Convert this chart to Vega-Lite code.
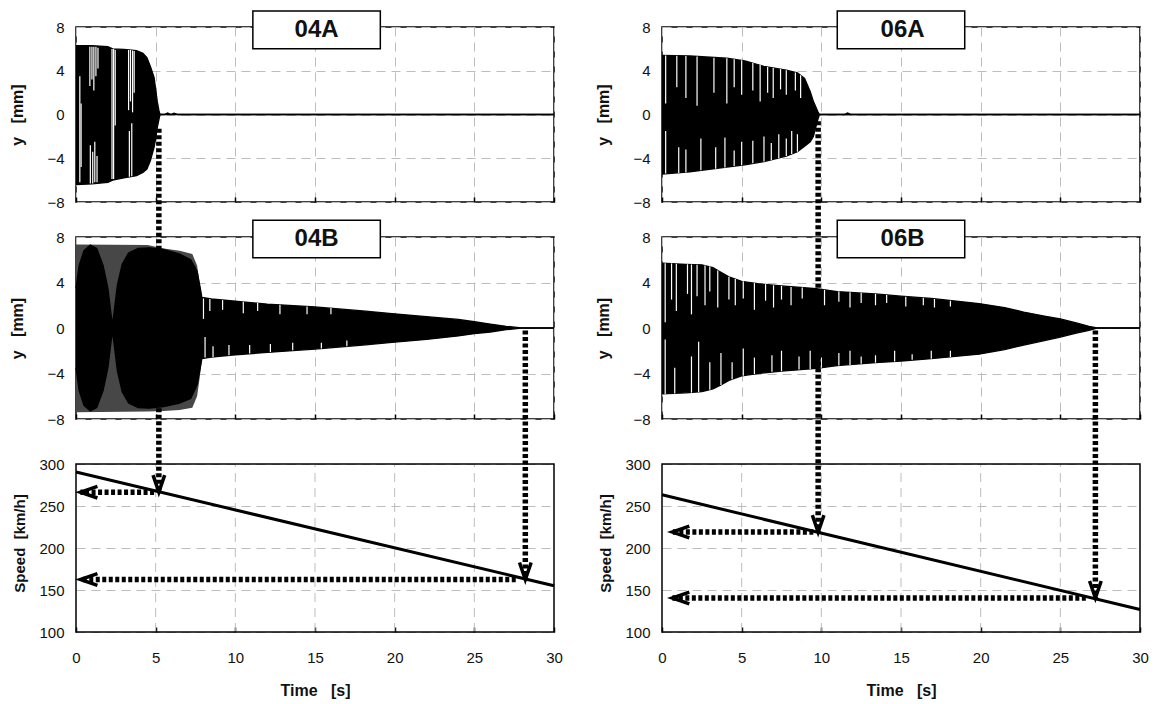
{
  "$schema": "https://vega.github.io/schema/vega-lite/v6.json",
  "background": "white",
  "padding": {"left": 9, "top": 9, "right": 5, "bottom": 5},
  "config": {
    "font": "Liberation Sans",
    "view": {"stroke": "#000", "strokeWidth": 1.5},
    "axis": {"domain": false, "labelFontSize": 15, "labelColor": "#111", "titleFontSize": 16, "titleFontWeight": "bold", "titleColor": "#111", "gridColor": "#bdbdbd", "gridDash": [9, 6], "gridWidth": 1}
  },
  "datasets": {
    "e04A": [
      {"t": 0, "hi": 6.3, "lo": -6.4}, {"t": 1, "hi": 6.3, "lo": -6.35}, {"t": 2, "hi": 6.2, "lo": -6.2}, {"t": 2.3, "hi": 6.0, "lo": -6.0},
      {"t": 3, "hi": 5.95, "lo": -5.8}, {"t": 3.8, "hi": 5.85, "lo": -5.6}, {"t": 4.2, "hi": 5.6, "lo": -5.3}, {"t": 4.45, "hi": 5.2, "lo": -5.0},
      {"t": 4.67, "hi": 4.4, "lo": -4.2}, {"t": 4.9, "hi": 3.4, "lo": -3.0}, {"t": 5.0, "hi": 2.3, "lo": -2.2}, {"t": 5.1, "hi": 1.2, "lo": -1.2},
      {"t": 5.2, "hi": 0.4, "lo": -0.5}, {"t": 5.27, "hi": 0, "lo": 0}, {"t": 5.55, "hi": 0, "lo": 0}, {"t": 5.75, "hi": 0.13, "lo": 0},
      {"t": 5.95, "hi": 0, "lo": 0}, {"t": 6.15, "hi": 0.13, "lo": 0}, {"t": 6.4, "hi": 0, "lo": 0}, {"t": 30, "hi": 0, "lo": 0}
    ],
    "g04A": [
      {"t": 0.24, "a": 3.5, "b": -6.2}, {"t": 0.32, "a": 1.0, "b": -4.8},
      {"t": 0.87, "a": 6.2, "b": 2.6}, {"t": 1.0, "a": 6.2, "b": 3.2}, {"t": 1.12, "a": 6.2, "b": 2.2}, {"t": 1.25, "a": 6.2, "b": 3.5}, {"t": 1.38, "a": 6.1, "b": 4.2},
      {"t": 0.9, "a": -2.8, "b": -6.3}, {"t": 1.05, "a": -3.4, "b": -6.3}, {"t": 1.18, "a": -2.5, "b": -6.2}, {"t": 1.32, "a": -3.8, "b": -6.2},
      {"t": 2.26, "a": 6.0, "b": -5.9}, {"t": 2.36, "a": 6.0, "b": -5.9}, {"t": 2.46, "a": 5.9, "b": -1.0},
      {"t": 3.3, "a": 5.9, "b": 0.4}, {"t": 3.42, "a": 5.9, "b": 1.2}, {"t": 3.55, "a": 5.85, "b": 0.2}, {"t": 3.65, "a": 5.8, "b": 2.0},
      {"t": 3.35, "a": -1.5, "b": -5.7}, {"t": 3.5, "a": -0.8, "b": -5.65}
    ],
    "e04Bh": [
      {"t": 0, "hi": 7.35, "lo": -7.4}, {"t": 4.5, "hi": 7.3, "lo": -7.35}, {"t": 5.5, "hi": 7.0, "lo": -7.3}, {"t": 6.5, "hi": 6.8, "lo": -7.2},
      {"t": 7.3, "hi": 6.5, "lo": -7.0}, {"t": 7.6, "hi": 5.5, "lo": -6.0}, {"t": 7.75, "hi": 4.0, "lo": -4.5}, {"t": 7.9, "hi": 2.7, "lo": -2.7}
    ],
    "e04B": [
      {"t": 0, "hi": 3.5, "lo": -3.5}, {"t": 0.2, "hi": 5.5, "lo": -5.5}, {"t": 0.5, "hi": 6.8, "lo": -6.8}, {"t": 0.9, "hi": 7.3, "lo": -7.3},
      {"t": 1.3, "hi": 7.0, "lo": -7.0}, {"t": 1.7, "hi": 5.5, "lo": -5.5}, {"t": 2.0, "hi": 3.5, "lo": -3.5}, {"t": 2.2, "hi": 1.2, "lo": -1.2},
      {"t": 2.3, "hi": 0.3, "lo": -0.3}, {"t": 2.4, "hi": 1.5, "lo": -1.5}, {"t": 2.6, "hi": 3.8, "lo": -3.8}, {"t": 2.9, "hi": 5.6, "lo": -5.6},
      {"t": 3.3, "hi": 6.6, "lo": -6.6}, {"t": 3.9, "hi": 7.0, "lo": -7.0}, {"t": 4.6, "hi": 7.05, "lo": -7.05}, {"t": 5.5, "hi": 6.9, "lo": -6.9},
      {"t": 6.5, "hi": 6.5, "lo": -6.6}, {"t": 7.2, "hi": 6.0, "lo": -6.2}, {"t": 7.6, "hi": 5.0, "lo": -5.0}, {"t": 7.8, "hi": 3.5, "lo": -3.5},
      {"t": 7.9, "hi": 2.7, "lo": -2.7}, {"t": 8.5, "hi": 2.55, "lo": -2.55}, {"t": 10, "hi": 2.35, "lo": -2.35}, {"t": 12, "hi": 2.1, "lo": -2.15},
      {"t": 15, "hi": 1.85, "lo": -1.85}, {"t": 18, "hi": 1.5, "lo": -1.5}, {"t": 20, "hi": 1.25, "lo": -1.25}, {"t": 22, "hi": 1.0, "lo": -1.0},
      {"t": 24, "hi": 0.75, "lo": -0.7}, {"t": 25, "hi": 0.55, "lo": -0.5}, {"t": 26, "hi": 0.35, "lo": -0.35}, {"t": 27, "hi": 0.15, "lo": -0.15},
      {"t": 27.8, "hi": 0.03, "lo": -0.03}, {"t": 28, "hi": 0, "lo": 0}, {"t": 30, "hi": 0, "lo": 0}
    ],
    "g04B": [
      {"t": 8.0, "a": 2.6, "b": 0.8}, {"t": 8.4, "a": 2.55, "b": 1.5}, {"t": 9.2, "a": 2.45, "b": 1.6}, {"t": 10.5, "a": 2.3, "b": 1.3},
      {"t": 11.4, "a": 2.2, "b": 1.5}, {"t": 12.8, "a": 2.05, "b": 1.2}, {"t": 14.5, "a": 1.9, "b": 1.2}, {"t": 16, "a": 1.75, "b": 1.2},
      {"t": 8.1, "a": -2.6, "b": -0.8}, {"t": 8.6, "a": -2.55, "b": -1.6}, {"t": 9.6, "a": -2.4, "b": -1.5}, {"t": 10.9, "a": -2.25, "b": -1.5},
      {"t": 12.2, "a": -2.1, "b": -1.4}, {"t": 13.6, "a": -1.95, "b": -1.3}, {"t": 15.4, "a": -1.8, "b": -1.3}, {"t": 17, "a": -1.6, "b": -1.1}
    ],
    "e06A": [
      {"t": 0, "hi": 5.4, "lo": -5.45}, {"t": 1.74, "hi": 5.35, "lo": -5.25}, {"t": 4.07, "hi": 5.15, "lo": -4.8}, {"t": 5.2, "hi": 4.9, "lo": -4.6},
      {"t": 6.4, "hi": 4.4, "lo": -4.3}, {"t": 7.8, "hi": 4.05, "lo": -3.8}, {"t": 8.5, "hi": 3.8, "lo": -3.4}, {"t": 8.95, "hi": 3.3, "lo": -2.9},
      {"t": 9.3, "hi": 2.1, "lo": -2.5}, {"t": 9.5, "hi": 1.2, "lo": -2.0}, {"t": 9.77, "hi": 0.3, "lo": -0.5}, {"t": 9.88, "hi": 0, "lo": 0},
      {"t": 11.45, "hi": 0, "lo": 0}, {"t": 11.65, "hi": 0.15, "lo": 0}, {"t": 11.85, "hi": 0, "lo": 0}, {"t": 30, "hi": 0, "lo": 0}
    ],
    "g06A": [
      {"t": 0.23, "a": 5.4, "b": 1.0}, {"t": 0.93, "a": 5.38, "b": 2.5}, {"t": 1.5, "a": 5.35, "b": 1.5}, {"t": 2.2, "a": 5.3, "b": 0.8},
      {"t": 3.26, "a": 5.2, "b": 2.0}, {"t": 4.07, "a": 5.15, "b": 1.0}, {"t": 4.53, "a": 5.05, "b": 2.5}, {"t": 5.0, "a": 4.95, "b": 1.8},
      {"t": 5.7, "a": 4.7, "b": 2.2}, {"t": 6.16, "a": 4.55, "b": 1.2}, {"t": 6.63, "a": 4.35, "b": 2.0}, {"t": 6.98, "a": 4.25, "b": 1.5},
      {"t": 7.44, "a": 4.15, "b": 2.3}, {"t": 7.8, "a": 4.05, "b": 1.8}, {"t": 8.37, "a": 3.85, "b": 2.2}, {"t": 8.7, "a": 3.6, "b": 1.5},
      {"t": 0.23, "a": -5.4, "b": -1.5}, {"t": 1.05, "a": -5.35, "b": -3.0}, {"t": 1.5, "a": -5.3, "b": -3.2}, {"t": 2.44, "a": -5.1, "b": -2.2},
      {"t": 3.37, "a": -4.95, "b": -3.0}, {"t": 3.95, "a": -4.85, "b": -2.1}, {"t": 4.53, "a": -4.7, "b": -3.3}, {"t": 5.0, "a": -4.65, "b": -2.5},
      {"t": 5.7, "a": -4.45, "b": -2.4}, {"t": 6.4, "a": -4.3, "b": -2.0}, {"t": 6.86, "a": -4.15, "b": -2.6}, {"t": 7.33, "a": -4.0, "b": -1.8},
      {"t": 7.8, "a": -3.8, "b": -2.2}, {"t": 8.14, "a": -3.6, "b": -1.5}, {"t": 8.5, "a": -3.4, "b": -1.8}
    ],
    "e06B": [
      {"t": 0, "hi": 5.7, "lo": -5.8}, {"t": 1.5, "hi": 5.6, "lo": -5.7}, {"t": 2.5, "hi": 5.55, "lo": -5.6}, {"t": 3.2, "hi": 5.3, "lo": -5.35},
      {"t": 3.7, "hi": 4.9, "lo": -5.0}, {"t": 4.2, "hi": 4.5, "lo": -4.6}, {"t": 5.0, "hi": 4.1, "lo": -4.2}, {"t": 6.0, "hi": 3.9, "lo": -4.0},
      {"t": 7.5, "hi": 3.7, "lo": -3.8}, {"t": 9.7, "hi": 3.45, "lo": -3.55}, {"t": 11, "hi": 3.2, "lo": -3.3}, {"t": 13.4, "hi": 3.0, "lo": -3.05},
      {"t": 15, "hi": 2.8, "lo": -2.9}, {"t": 16.9, "hi": 2.6, "lo": -2.7}, {"t": 19.9, "hi": 2.15, "lo": -2.3}, {"t": 21.5, "hi": 1.8, "lo": -1.9},
      {"t": 22.7, "hi": 1.4, "lo": -1.5}, {"t": 24, "hi": 1.05, "lo": -1.1}, {"t": 25, "hi": 0.8, "lo": -0.8}, {"t": 26, "hi": 0.45, "lo": -0.45},
      {"t": 26.8, "hi": 0.15, "lo": -0.2}, {"t": 27.3, "hi": 0, "lo": 0}, {"t": 30, "hi": 0, "lo": 0}
    ],
    "g06B": [
      {"t": 0.2, "a": 5.7, "b": 0.5}, {"t": 0.6, "a": 5.68, "b": 2.5}, {"t": 0.9, "a": 5.65, "b": 1.5}, {"t": 1.6, "a": 5.6, "b": 3.0},
      {"t": 1.85, "a": 5.58, "b": 1.2}, {"t": 2.2, "a": 5.56, "b": 2.8}, {"t": 2.7, "a": 5.5, "b": 2.0}, {"t": 3.0, "a": 5.4, "b": 3.2},
      {"t": 3.5, "a": 5.05, "b": 1.8}, {"t": 4.2, "a": 4.5, "b": 2.5}, {"t": 4.6, "a": 4.3, "b": 2.0}, {"t": 5.1, "a": 4.1, "b": 2.6},
      {"t": 5.8, "a": 3.95, "b": 1.6}, {"t": 6.5, "a": 3.85, "b": 2.4}, {"t": 7.0, "a": 3.75, "b": 1.8}, {"t": 7.5, "a": 3.7, "b": 2.5},
      {"t": 8.1, "a": 3.6, "b": 2.0}, {"t": 8.8, "a": 3.55, "b": 2.6}, {"t": 10.2, "a": 3.35, "b": 2.0}, {"t": 11.1, "a": 3.2, "b": 2.3},
      {"t": 11.8, "a": 3.15, "b": 1.8}, {"t": 12.5, "a": 3.1, "b": 2.2}, {"t": 13.4, "a": 3.0, "b": 2.0}, {"t": 14.1, "a": 2.9, "b": 2.2},
      {"t": 15.3, "a": 2.75, "b": 1.9}, {"t": 16.4, "a": 2.65, "b": 2.0}, {"t": 17.1, "a": 2.55, "b": 1.8}, {"t": 18.1, "a": 2.4, "b": 1.9},
      {"t": 0.2, "a": -5.8, "b": -1.0}, {"t": 0.8, "a": -5.75, "b": -3.5}, {"t": 1.85, "a": -5.68, "b": -2.5}, {"t": 2.3, "a": -5.62, "b": -1.2},
      {"t": 3.0, "a": -5.42, "b": -3.0}, {"t": 3.7, "a": -5.0, "b": -2.2}, {"t": 4.4, "a": -4.5, "b": -3.0}, {"t": 5.1, "a": -4.2, "b": -1.8},
      {"t": 5.8, "a": -4.05, "b": -2.6}, {"t": 6.9, "a": -3.85, "b": -2.4}, {"t": 7.5, "a": -3.8, "b": -2.0}, {"t": 8.6, "a": -3.65, "b": -2.5},
      {"t": 9.3, "a": -3.6, "b": -2.0}, {"t": 10.0, "a": -3.5, "b": -2.6}, {"t": 11.1, "a": -3.3, "b": -2.2}, {"t": 11.8, "a": -3.25, "b": -2.0},
      {"t": 12.5, "a": -3.15, "b": -2.5}, {"t": 13.4, "a": -3.05, "b": -2.4}, {"t": 14.6, "a": -2.95, "b": -2.0}, {"t": 15.7, "a": -2.8, "b": -2.3},
      {"t": 16.9, "a": -2.7, "b": -2.0}, {"t": 18.1, "a": -2.55, "b": -2.0}
    ],
    "xgrid": [{"t": 5}, {"t": 10}, {"t": 15}, {"t": 20}, {"t": 25}],
    "spd04": [{"t": 0, "v": 290.5}, {"t": 30, "v": 155}],
    "spd06": [{"t": 0, "v": 263.3}, {"t": 30, "v": 126.7}],
    "vA04": [{"t": 5.2, "top": 699, "tip": 266.5}, {"t": 28.2, "top": 459, "tip": 162.5}],
    "hA04": [{"v": 266.5, "t1": 4.9, "t2": 0.28}, {"v": 162.5, "t1": 27.6, "t2": 0.28}],
    "vA06": [{"t": 9.8, "top": 708, "tip": 219}, {"t": 27.2, "top": 459, "tip": 140.5}],
    "hA06": [{"v": 219, "t1": 9.5, "t2": 0.65}, {"v": 140.5, "t1": 26.6, "t2": 0.65}]
  },
  "columns": 2,
  "spacing": {"row": 35, "column": 108},
  "bounds": "flush",
  "concat": [
    {
      "width": 478, "height": 175,
      "layer": [
        {"data": {"name": "e04A"}, "mark": {"type": "area", "color": "black"},
         "encoding": {
           "x": {"field": "t", "type": "quantitative", "scale": {"domain": [0, 30], "nice": false}, "axis": {"values": [0, 5, 10, 15, 20, 25, 30], "labels": false, "title": null, "ticks": true, "tickSize": -5, "tickColor": "black", "tickWidth": 1.5, "grid": true}},
           "y": {"field": "hi", "type": "quantitative", "scale": {"domain": [-8, 8], "nice": false}, "title": "y\u00a0\u00a0\u00a0[mm]", "axis": {"values": [-8, -4, 0, 4, 8], "ticks": false, "labelPadding": 12, "titlePadding": 21, "grid": true}},
           "y2": {"field": "lo"}}},
        {"data": {"name": "e04A"}, "mark": {"type": "line", "color": "black", "strokeWidth": 1.3},
         "encoding": {"x": {"field": "t", "type": "quantitative"}, "y": {"field": "hi", "type": "quantitative", "title": "y\u00a0\u00a0\u00a0[mm]"}}},
        {"data": {"name": "e04A"}, "mark": {"type": "line", "color": "black", "strokeWidth": 1.3},
         "encoding": {"x": {"field": "t", "type": "quantitative"}, "y": {"field": "lo", "type": "quantitative", "title": "y\u00a0\u00a0\u00a0[mm]"}}},
        {"data": {"name": "g04A"}, "mark": {"type": "rule", "color": "white", "strokeWidth": 1.2},
         "encoding": {"x": {"field": "t", "type": "quantitative"}, "y": {"field": "a", "type": "quantitative", "title": "y\u00a0\u00a0\u00a0[mm]"}, "y2": {"field": "b"}}},
        {"data": {"values": [{"label": "04A"}]}, "mark": {"type": "rect", "fill": "white", "stroke": "black", "strokeWidth": 1.5},
         "encoding": {"x": {"datum": 11.1}, "x2": {"datum": 19.1}, "y": {"datum": 9.46}, "y2": {"datum": 6.02}}},
        {"data": {"values": [{"label": "04A"}]}, "mark": {"type": "text", "fontSize": 24, "fontWeight": "bold", "color": "#111"},
         "encoding": {"x": {"datum": 15.1}, "y": {"datum": 7.75}, "text": {"field": "label"}}}
      ]
    },
    {
      "width": 478, "height": 175,
      "layer": [
        {"data": {"name": "e06A"}, "mark": {"type": "area", "color": "black"},
         "encoding": {
           "x": {"field": "t", "type": "quantitative", "scale": {"domain": [0, 30], "nice": false}, "axis": {"values": [0, 5, 10, 15, 20, 25, 30], "labels": false, "title": null, "ticks": true, "tickSize": -5, "tickColor": "black", "tickWidth": 1.5, "grid": true}},
           "y": {"field": "hi", "type": "quantitative", "scale": {"domain": [-8, 8], "nice": false}, "title": "y\u00a0\u00a0\u00a0[mm]", "axis": {"values": [-8, -4, 0, 4, 8], "ticks": false, "labelPadding": 12, "titlePadding": 21, "grid": true}},
           "y2": {"field": "lo"}}},
        {"data": {"name": "e06A"}, "mark": {"type": "line", "color": "black", "strokeWidth": 1.3},
         "encoding": {"x": {"field": "t", "type": "quantitative"}, "y": {"field": "hi", "type": "quantitative", "title": "y\u00a0\u00a0\u00a0[mm]"}}},
        {"data": {"name": "e06A"}, "mark": {"type": "line", "color": "black", "strokeWidth": 1.3},
         "encoding": {"x": {"field": "t", "type": "quantitative"}, "y": {"field": "lo", "type": "quantitative", "title": "y\u00a0\u00a0\u00a0[mm]"}}},
        {"data": {"name": "g06A"}, "mark": {"type": "rule", "color": "white", "strokeWidth": 1.2},
         "encoding": {"x": {"field": "t", "type": "quantitative"}, "y": {"field": "a", "type": "quantitative", "title": "y\u00a0\u00a0\u00a0[mm]"}, "y2": {"field": "b"}}},
        {"data": {"values": [{"label": "06A"}]}, "mark": {"type": "rect", "fill": "white", "stroke": "black", "strokeWidth": 1.5},
         "encoding": {"x": {"datum": 11.0}, "x2": {"datum": 19.0}, "y": {"datum": 9.46}, "y2": {"datum": 6.02}}},
        {"data": {"values": [{"label": "06A"}]}, "mark": {"type": "text", "fontSize": 24, "fontWeight": "bold", "color": "#111"},
         "encoding": {"x": {"datum": 15.1}, "y": {"datum": 7.75}, "text": {"field": "label"}}}
      ]
    },
    {
      "width": 478, "height": 182,
      "layer": [
        {"data": {"name": "e04Bh"}, "mark": {"type": "area", "color": "#474747"},
         "encoding": {
           "x": {"field": "t", "type": "quantitative", "scale": {"domain": [0, 30], "nice": false}, "axis": {"values": [0, 5, 10, 15, 20, 25, 30], "labels": false, "title": null, "ticks": true, "tickSize": -5, "tickColor": "black", "tickWidth": 1.5, "grid": true}},
           "y": {"field": "hi", "type": "quantitative", "scale": {"domain": [-8, 8], "nice": false}, "title": "y\u00a0\u00a0\u00a0[mm]", "axis": {"values": [-8, -4, 0, 4, 8], "ticks": false, "labelPadding": 12, "titlePadding": 21, "grid": true}},
           "y2": {"field": "lo"}}},
        {"data": {"name": "e04B"}, "mark": {"type": "area", "color": "black"},
         "encoding": {"x": {"field": "t", "type": "quantitative"}, "y": {"field": "hi", "type": "quantitative", "title": "y\u00a0\u00a0\u00a0[mm]"}, "y2": {"field": "lo"}}},
        {"data": {"name": "e04B"}, "mark": {"type": "line", "color": "black", "strokeWidth": 1.3},
         "encoding": {"x": {"field": "t", "type": "quantitative"}, "y": {"field": "hi", "type": "quantitative", "title": "y\u00a0\u00a0\u00a0[mm]"}}},
        {"data": {"name": "e04B"}, "mark": {"type": "line", "color": "black", "strokeWidth": 1.3},
         "encoding": {"x": {"field": "t", "type": "quantitative"}, "y": {"field": "lo", "type": "quantitative", "title": "y\u00a0\u00a0\u00a0[mm]"}}},
        {"data": {"name": "g04B"}, "mark": {"type": "rule", "color": "white", "strokeWidth": 1.2},
         "encoding": {"x": {"field": "t", "type": "quantitative"}, "y": {"field": "a", "type": "quantitative", "title": "y\u00a0\u00a0\u00a0[mm]"}, "y2": {"field": "b"}}},
        {"data": {"values": [{"label": "04B"}]}, "mark": {"type": "rect", "fill": "white", "stroke": "black", "strokeWidth": 1.5},
         "encoding": {"x": {"datum": 11.1}, "x2": {"datum": 19.1}, "y": {"datum": 9.47}, "y2": {"datum": 6.18}}},
        {"data": {"values": [{"label": "04B"}]}, "mark": {"type": "text", "fontSize": 24, "fontWeight": "bold", "color": "#111"},
         "encoding": {"x": {"datum": 15.1}, "y": {"datum": 7.85}, "text": {"field": "label"}}}
      ]
    },
    {
      "width": 478, "height": 182,
      "layer": [
        {"data": {"name": "e06B"}, "mark": {"type": "area", "color": "black"},
         "encoding": {
           "x": {"field": "t", "type": "quantitative", "scale": {"domain": [0, 30], "nice": false}, "axis": {"values": [0, 5, 10, 15, 20, 25, 30], "labels": false, "title": null, "ticks": true, "tickSize": -5, "tickColor": "black", "tickWidth": 1.5, "grid": true}},
           "y": {"field": "hi", "type": "quantitative", "scale": {"domain": [-8, 8], "nice": false}, "title": "y\u00a0\u00a0\u00a0[mm]", "axis": {"values": [-8, -4, 0, 4, 8], "ticks": false, "labelPadding": 12, "titlePadding": 21, "grid": true}},
           "y2": {"field": "lo"}}},
        {"data": {"name": "e06B"}, "mark": {"type": "line", "color": "black", "strokeWidth": 1.3},
         "encoding": {"x": {"field": "t", "type": "quantitative"}, "y": {"field": "hi", "type": "quantitative", "title": "y\u00a0\u00a0\u00a0[mm]"}}},
        {"data": {"name": "e06B"}, "mark": {"type": "line", "color": "black", "strokeWidth": 1.3},
         "encoding": {"x": {"field": "t", "type": "quantitative"}, "y": {"field": "lo", "type": "quantitative", "title": "y\u00a0\u00a0\u00a0[mm]"}}},
        {"data": {"name": "g06B"}, "mark": {"type": "rule", "color": "white", "strokeWidth": 1.2},
         "encoding": {"x": {"field": "t", "type": "quantitative"}, "y": {"field": "a", "type": "quantitative", "title": "y\u00a0\u00a0\u00a0[mm]"}, "y2": {"field": "b"}}},
        {"data": {"values": [{"label": "06B"}]}, "mark": {"type": "rect", "fill": "white", "stroke": "black", "strokeWidth": 1.5},
         "encoding": {"x": {"datum": 11.0}, "x2": {"datum": 19.0}, "y": {"datum": 9.47}, "y2": {"datum": 6.18}}},
        {"data": {"values": [{"label": "06B"}]}, "mark": {"type": "text", "fontSize": 24, "fontWeight": "bold", "color": "#111"},
         "encoding": {"x": {"datum": 15.1}, "y": {"datum": 7.85}, "text": {"field": "label"}}}
      ]
    },
    {
      "width": 478, "height": 178,
      "view": {"stroke": null},
      "layer": [
        {"data": {"name": "xgrid"}, "mark": {"type": "rule", "color": "#bdbdbd", "strokeWidth": 1, "strokeDash": [9, 6]},
         "encoding": {
           "x": {"field": "t", "type": "quantitative", "scale": {"domain": [0, 30], "nice": false}, "title": "Time\u00a0\u00a0\u00a0[s]", "axis": {"values": [0, 5, 10, 15, 20, 25, 30], "labelFlush": false, "ticks": true, "tickSize": -5, "tickColor": "black", "tickWidth": 1.5, "labelPadding": 23, "titlePadding": 17, "grid": false}},
           "y": {"datum": 100, "type": "quantitative", "scale": {"domain": [100, 311.905], "nice": false, "zero": false}, "title": "Speed\u00a0\u00a0[km/h]", "axis": {"values": [100, 150, 200, 250, 300], "ticks": false, "labelPadding": 12, "titlePadding": 11, "titleFontSize": 15, "grid": true}},
           "y2": {"datum": 300}}},
        {"data": {"values": [{"label": "frame"}]}, "mark": {"type": "rect", "fill": null, "stroke": "black", "strokeWidth": 1.5},
         "encoding": {"x": {"datum": 0}, "x2": {"datum": 30}, "y": {"datum": 100}, "y2": {"datum": 300}}},
        {"data": {"name": "spd04"}, "mark": {"type": "line", "color": "black", "strokeWidth": 3},
         "encoding": {"x": {"field": "t", "type": "quantitative", "title": "Time\u00a0\u00a0\u00a0[s]"}, "y": {"field": "v", "type": "quantitative", "title": "Speed\u00a0\u00a0[km/h]"}}},
        {"data": {"name": "hA04"}, "mark": {"type": "rule", "color": "black", "strokeWidth": 5.5, "strokeDash": [4, 2.5]},
         "encoding": {"x": {"field": "t1", "type": "quantitative", "title": "Time\u00a0\u00a0\u00a0[s]"}, "x2": {"field": "t2"}, "y": {"field": "v", "type": "quantitative", "title": "Speed\u00a0\u00a0[km/h]"}}},
        {"data": {"name": "vA04"}, "mark": {"type": "rule", "color": "black", "strokeWidth": 5.5, "strokeDash": [4, 2.5]},
         "encoding": {"x": {"field": "t", "type": "quantitative", "title": "Time\u00a0\u00a0\u00a0[s]"}, "y": {"field": "top", "type": "quantitative", "title": "Speed\u00a0\u00a0[km/h]"}, "y2": {"field": "tip"}}},
        {"data": {"name": "vA04"}, "mark": {"type": "point", "shape": "M-0.55,-1.6L0,0L0.55,-1.6", "size": 450, "filled": false, "stroke": "black", "strokeWidth": 3.5, "opacity": 1},
         "encoding": {"x": {"field": "t", "type": "quantitative", "title": "Time\u00a0\u00a0\u00a0[s]"}, "y": {"field": "tip", "type": "quantitative", "title": "Speed\u00a0\u00a0[km/h]"}}},
        {"data": {"name": "hA04"}, "mark": {"type": "point", "shape": "M1.6,-0.55L0,0L1.6,0.55", "size": 450, "filled": false, "stroke": "black", "strokeWidth": 3.5, "opacity": 1},
         "encoding": {"x": {"field": "t2", "type": "quantitative", "title": "Time\u00a0\u00a0\u00a0[s]"}, "y": {"field": "v", "type": "quantitative", "title": "Speed\u00a0\u00a0[km/h]"}}}
      ]
    },
    {
      "width": 478, "height": 178,
      "view": {"stroke": null},
      "layer": [
        {"data": {"name": "xgrid"}, "mark": {"type": "rule", "color": "#bdbdbd", "strokeWidth": 1, "strokeDash": [9, 6]},
         "encoding": {
           "x": {"field": "t", "type": "quantitative", "scale": {"domain": [0, 30], "nice": false}, "title": "Time\u00a0\u00a0\u00a0[s]", "axis": {"values": [0, 5, 10, 15, 20, 25, 30], "labelFlush": false, "ticks": true, "tickSize": -5, "tickColor": "black", "tickWidth": 1.5, "labelPadding": 23, "titlePadding": 17, "grid": false}},
           "y": {"datum": 100, "type": "quantitative", "scale": {"domain": [100, 311.905], "nice": false, "zero": false}, "title": "Speed\u00a0\u00a0[km/h]", "axis": {"values": [100, 150, 200, 250, 300], "ticks": false, "labelPadding": 12, "titlePadding": 11, "titleFontSize": 15, "grid": true}},
           "y2": {"datum": 300}}},
        {"data": {"values": [{"label": "frame"}]}, "mark": {"type": "rect", "fill": null, "stroke": "black", "strokeWidth": 1.5},
         "encoding": {"x": {"datum": 0}, "x2": {"datum": 30}, "y": {"datum": 100}, "y2": {"datum": 300}}},
        {"data": {"name": "spd06"}, "mark": {"type": "line", "color": "black", "strokeWidth": 3},
         "encoding": {"x": {"field": "t", "type": "quantitative", "title": "Time\u00a0\u00a0\u00a0[s]"}, "y": {"field": "v", "type": "quantitative", "title": "Speed\u00a0\u00a0[km/h]"}}},
        {"data": {"name": "hA06"}, "mark": {"type": "rule", "color": "black", "strokeWidth": 5.5, "strokeDash": [4, 2.5]},
         "encoding": {"x": {"field": "t1", "type": "quantitative", "title": "Time\u00a0\u00a0\u00a0[s]"}, "x2": {"field": "t2"}, "y": {"field": "v", "type": "quantitative", "title": "Speed\u00a0\u00a0[km/h]"}}},
        {"data": {"name": "vA06"}, "mark": {"type": "rule", "color": "black", "strokeWidth": 5.5, "strokeDash": [4, 2.5]},
         "encoding": {"x": {"field": "t", "type": "quantitative", "title": "Time\u00a0\u00a0\u00a0[s]"}, "y": {"field": "top", "type": "quantitative", "title": "Speed\u00a0\u00a0[km/h]"}, "y2": {"field": "tip"}}},
        {"data": {"name": "vA06"}, "mark": {"type": "point", "shape": "M-0.55,-1.6L0,0L0.55,-1.6", "size": 450, "filled": false, "stroke": "black", "strokeWidth": 3.5, "opacity": 1},
         "encoding": {"x": {"field": "t", "type": "quantitative", "title": "Time\u00a0\u00a0\u00a0[s]"}, "y": {"field": "tip", "type": "quantitative", "title": "Speed\u00a0\u00a0[km/h]"}}},
        {"data": {"name": "hA06"}, "mark": {"type": "point", "shape": "M1.6,-0.55L0,0L1.6,0.55", "size": 450, "filled": false, "stroke": "black", "strokeWidth": 3.5, "opacity": 1},
         "encoding": {"x": {"field": "t2", "type": "quantitative", "title": "Time\u00a0\u00a0\u00a0[s]"}, "y": {"field": "v", "type": "quantitative", "title": "Speed\u00a0\u00a0[km/h]"}}}
      ]
    }
  ]
}
